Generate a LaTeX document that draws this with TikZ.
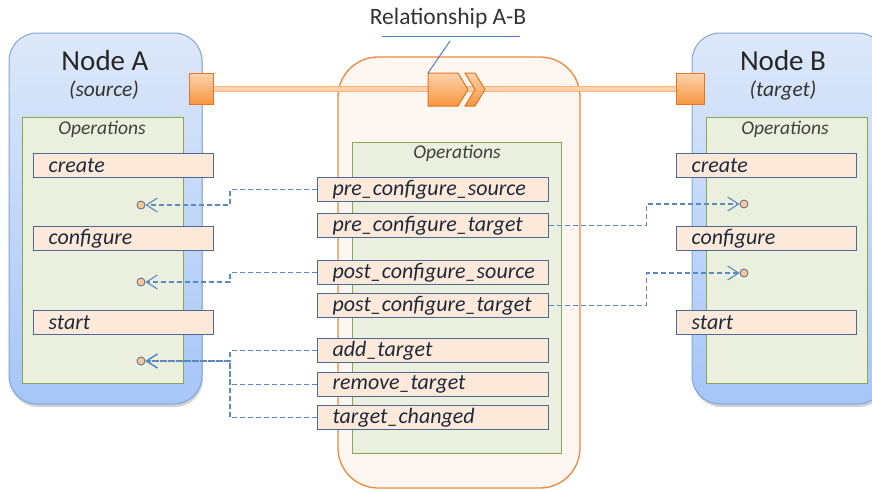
\documentclass[tikz,border=0pt]{standalone}
\usepackage{fontspec}
\setmainfont{Carlito}
\usetikzlibrary{arrows.meta,shadows,calc}
\definecolor{nodeborder}{HTML}{7FA6D9}
\definecolor{nodetop}{HTML}{DDE8F9}
\definecolor{nodebot}{HTML}{A6C6F8}
\definecolor{opsfill}{HTML}{EBF0DE}
\definecolor{opsborder}{HTML}{87A84E}
\definecolor{barfill}{HTML}{FDE9DA}
\definecolor{barborder}{HTML}{4E6A94}
\definecolor{relfill}{HTML}{FDF6F1}
\definecolor{relborder}{HTML}{F0883A}
\definecolor{conn}{HTML}{5B89C4}
\definecolor{txt}{HTML}{1E2A3A}
\definecolor{orlight}{HTML}{FDD2AC}
\definecolor{ordark}{HTML}{F7963F}
\definecolor{oredge}{HTML}{E8731C}
\definecolor{callout}{HTML}{4F81BD}
\tikzset{
  nodebox/.style={draw=nodeborder, line width=1pt, rounded corners=28pt, top color=nodetop, bottom color=nodebot,
    drop shadow={shadow xshift=1pt, shadow yshift=-3pt, opacity=0.35}},
  opsbox/.style={draw=opsborder, fill=opsfill, line width=1pt},
  relbox/.style={draw=relborder, fill=relfill, line width=1.3pt, rounded corners=40pt},
  bar/.style={draw=barborder, fill=barfill, line width=1.2pt, minimum height=24pt, inner xsep=15pt, inner ysep=0pt,
    anchor=north west, align=left, font=\fontsize{22}{24}\selectfont\itshape, text=txt},
  lbar/.style={bar, text width=150pt},
  mbar/.style={bar, text width=201pt},
  opslabel/.style={font=\fontsize{19.5}{21}\selectfont\itshape, text=black!75},
  title/.style={font=\fontsize{29}{31}\selectfont, text=black!85},
  subtitle/.style={font=\fontsize{21.5}{23}\selectfont\itshape, text=black!80},
  recept/.style={circle, draw=barborder, fill=orlight!80!ordark, line width=0.8pt, inner sep=0pt, minimum size=8pt},
  dconn/.style={draw=conn, line width=1.1pt, dash pattern=on 5pt off 3pt,
    -{Straight Barb[length=11pt,width=14pt,line width=1.1pt]}},
  orshape/.style={draw=oredge, line width=1pt, top color=orlight, bottom color=ordark},
}
\begin{document}
\begin{tikzpicture}[x=1pt,y=-1pt]
\useasboundingbox (0,0) rectangle (872,491);
\begin{scope}
\clip (0,0) rectangle (872,491);
% Node A
\path[nodebox] (9,33) rectangle (202,404);
\path[opsbox] (22,117) rectangle (183,383);
\node[title] (ta) at (105,61) {Node A};
\node[subtitle] (sa) at (104,90) {(source)};
\node[opslabel] (oa) at (102,129) {Operations};
% Node B
\path[nodebox] (692,33) rectangle (886,404);
\path[opsbox] (706,117) rectangle (867,383);
\node[title] (tb) at (783,61) {Node B};
\node[subtitle] (sb) at (783,90) {(target)};
\node[opslabel] (ob) at (785,129) {Operations};
% Relationship
\path[relbox] (338,57) rectangle (580,488);
\path[opsbox] (352,142) rectangle (561,453);
\node[opslabel] (om) at (457,153) {Operations};
\end{scope}
% bars A
\node[lbar] (acreate) at (33,153) {create};
\node[lbar] (aconf) at (33,226) {configure};
\node[lbar] (astart) at (33,310) {start};
% bars B
\node[lbar] (bcreate) at (676,153) {create};
\node[lbar] (bconf) at (676,226) {configure};
\node[lbar] (bstart) at (676,310) {start};
% bars middle
\node[mbar] (pcs) at (317,177) {pre\_configure\_source};
\node[mbar] (pct) at (317,213) {pre\_configure\_target};
\node[mbar] (qcs) at (317,260) {post\_configure\_source};
\node[mbar] (qct) at (317,293) {post\_configure\_target};
\node[mbar] (add) at (317,338) {add\_target};
\node[mbar] (rem) at (317,372) {remove\_target};
\node[mbar] (tch) at (317,405) {target\_changed};
% receptacles
\node[recept] (ra1) at (141,205) {};
\node[recept] (ra2) at (141,282) {};
\node[recept] (ra3) at (141,361) {};
\node[recept] (rb1) at (744,204) {};
\node[recept] (rb2) at (744,273) {};
% connectors
\draw[dconn] (pcs.west) -- ++(-87,0) |- (ra1.east);
\draw[dconn] (qcs.west) -- ++(-87,0) |- (ra2.east);
\draw[dconn] (add.west) -- ++(-87,0) |- (ra3.east);
\draw[dconn] (rem.west) -- ++(-87,0) |- (ra3.east);
\draw[dconn] (tch.west) -- ++(-87,0) |- (ra3.east);
\draw[dconn] (pct.east) -- ++(97,0) |- (rb1.west);
\draw[dconn] (qct.east) -- ++(97,0) |- (rb2.west);
% relationship band
\node[orshape, minimum width=24pt, minimum height=31pt, inner sep=0pt] (lsq) at (201,89) {};
\node[orshape, minimum width=28pt, minimum height=31pt, inner sep=0pt] (rsq) at (690,89) {};
\draw[line width=6pt, draw=ordark!70] (lsq.east) -- (rsq.west);
\draw[line width=3.6pt, draw=orlight] (lsq.east) -- (rsq.west);
\path[orshape] (428,73) -- (458,73) -- (468,89.5) -- (458,106) -- (428,106) -- cycle;
\coordinate (pent) at (428,73);
\path[orshape] (465,73) -- (475,73) -- (485,89.5) -- (475,106) -- (465,106) -- (475,89.5) -- cycle;
% callout
\node[font=\fontsize{23.5}{25}\selectfont, text=black!80] (rel) at (448,18) {Relationship A-B};
\coordinate (ul) at (382,36);
\coordinate (ur) at (520,36);
\coordinate (uk) at (450,41);
\draw[callout, line width=1pt] (ul) -- (ur);
\draw[callout, line width=1pt] (uk) -- (pent);
\end{tikzpicture}
\end{document}
